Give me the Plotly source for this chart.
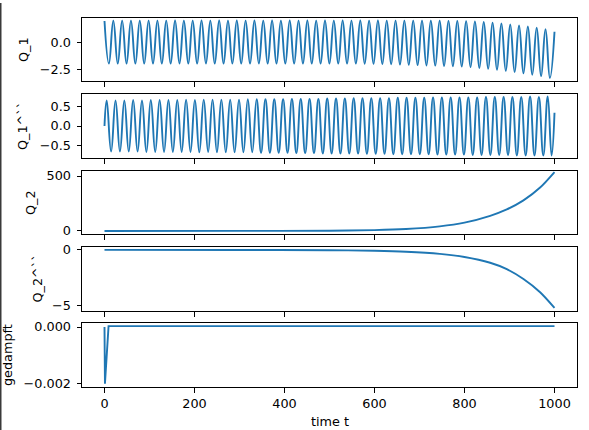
import plotly.graph_objects as go

# ---------------- data ----------------
x_ticks = [0, 200, 400, 600, 800, 1000]
x_tick_labels = ["0", "200", "400", "600", "800", "1000"]

# Q_1: extrema (peaks / troughs) of the oscillation
q1_t = [0, 9.8, 19.6, 29.4, 39.2, 49, 58.8, 68.6, 78.4, 88.2,
        98, 107.8, 117.6, 127.4, 137.2, 147, 156.8, 166.6, 176.4, 186.2,
        196, 205.8, 215.6, 225.4, 235.2, 245, 254.8, 264.6, 274.4, 284.2,
        294, 303.8, 313.6, 323.4, 333.2, 343, 352.8, 362.6, 372.4, 382.2,
        392, 401.8, 411.6, 421.4, 431.2, 441, 450.8, 460.6, 470.4, 480.2,
        490, 499.8, 509.6, 519.4, 529.2, 539, 548.8, 558.6, 568.4, 578.2,
        588, 597.8, 607.6, 617.4, 627.2, 637, 646.8, 656.6, 666.4, 676.2,
        686, 695.8, 705.6, 715.4, 725.2, 735, 744.8, 754.6, 764.4, 774.2,
        784, 793.8, 803.6, 813.4, 823.2, 833, 842.8, 852.6, 862.4, 872.2,
        882, 891.8, 901.6, 911.4, 921.2, 931, 940.8, 950.6, 960.4, 970.2,
        980, 989.8, 1000]
q1_v = [2.08, -1.96, 2.11, -1.97, 2.12, -1.96, 2.12, -1.97, 2.11, -1.97,
        2.12, -1.96, 2.12, -1.97, 2.12, -1.97, 2.13, -1.96, 2.12, -1.97,
        2.12, -1.97, 2.13, -1.96, 2.12, -1.97, 2.13, -1.97, 2.12, -1.96,
        2.13, -1.97, 2.12, -1.97, 2.13, -1.96, 2.12, -1.97, 2.13, -1.97,
        2.12, -1.97, 2.13, -1.97, 2.12, -1.97, 2.13, -1.97, 2.12, -1.97,
        2.13, -1.97, 2.12, -1.97, 2.13, -1.97, 2.12, -1.97, 2.13, -1.98,
        2.12, -1.99, 2.13, -2.01, 2.12, -2.03, 2.12, -2.06, 2.12, -2.09,
        2.12, -2.11, 2.12, -2.14, 2.11, -2.16, 2.11, -2.19, 2.10, -2.22,
        2.09, -2.25, 2.07, -2.30, 2.05, -2.38, 1.99, -2.47, 1.92, -2.56,
        1.84, -2.66, 1.75, -2.77, 1.66, -2.89, 1.56, -3.02, 1.44, -3.16,
        1.30, -3.33, 1.06]

# Q_1^`` : extrema of the oscillation
q1dd_t = [0, 4.9, 14.7, 24.5, 34.3, 44.1, 53.9, 63.7, 73.5, 83.3,
          93.1, 102.9, 112.7, 122.5, 132.3, 142.1, 151.9, 161.7, 171.5, 181.3,
          191.1, 200.9, 210.7, 220.5, 230.3, 240.1, 249.9, 259.7, 269.5, 279.3,
          289.1, 298.9, 308.7, 318.5, 328.3, 338.1, 347.9, 357.7, 367.5, 377.3,
          387.1, 396.9, 406.7, 416.5, 426.3, 436.1, 445.9, 455.7, 465.5, 475.3,
          485.1, 494.9, 504.7, 514.5, 524.3, 534.1, 543.9, 553.7, 563.5, 573.3,
          583.1, 592.9, 602.7, 612.5, 622.3, 632.1, 641.9, 651.7, 661.5, 671.3,
          681.1, 690.9, 700.7, 710.5, 720.3, 730.1, 739.9, 749.7, 759.5, 769.3,
          779.1, 788.9, 798.7, 808.5, 818.3, 828.1, 837.9, 847.7, 857.5, 867.3,
          877.1, 886.9, 896.7, 906.5, 916.3, 926.1, 935.9, 945.7, 955.5, 965.3,
          975.1, 984.9, 993.5, 1000]
q1dd_v = [0,
          0.66, -0.66, 0.66, -0.66, 0.66, -0.66, 0.67, -0.66, 0.66, -0.67,
          0.67, -0.67, 0.67, -0.67, 0.67, -0.67, 0.67, -0.67, 0.68, -0.67,
          0.67, -0.68, 0.68, -0.67, 0.68, -0.68, 0.68, -0.68, 0.68, -0.68,
          0.68, -0.68, 0.69, -0.68, 0.69, -0.69, 0.69, -0.69, 0.69, -0.69,
          0.69, -0.69, 0.70, -0.70, 0.70, -0.70, 0.70, -0.70, 0.70, -0.71,
          0.71, -0.71, 0.71, -0.71, 0.71, -0.71, 0.72, -0.71, 0.72, -0.72,
          0.72, -0.72, 0.72, -0.72, 0.72, -0.73, 0.73, -0.73, 0.73, -0.73,
          0.73, -0.73, 0.73, -0.73, 0.74, -0.74, 0.74, -0.74, 0.74, -0.74,
          0.74, -0.74, 0.74, -0.75, 0.74, -0.75, 0.75, -0.75, 0.75, -0.75,
          0.75, -0.75, 0.75, -0.76, 0.75, -0.76, 0.76, -0.76, 0.75, -0.76,
          0.76, -0.76,
          0.34]

# Q_2 and Q_2^``
q2_t = [0, 300, 500, 600, 670, 745, 800, 857, 894, 931, 968, 1000]
q2_v = [0, 0.5, 2.5, 8, 18, 42, 76, 138, 196, 278, 395, 536]
q2dd_v = [0, -0.01, -0.027, -0.078, -0.16, -0.35, -0.63, -1.15, -1.72, -2.6, -3.78, -5.18]

# gedampft
ged_t = [0, 1, 9, 16, 1000]
ged_v = [0, -0.002, 0.00003, 0.00003, 0.00003]

assert len(q1_t) == len(q1_v)
assert len(q1dd_t) == len(q1dd_v)

# y-axis labels / ticks per panel
titles = ["Q_1", "Q_1^``", "Q_2", "Q_2^``", "gedampft"]
y_ticks = [[-2.5, 0.0], [-0.5, 0.0, 0.5], [0, 500], [-5, 0], [-0.002, 0.0]]
y_tick_labels = [["\u22122.5", "0.0"], ["\u22120.5", "0.0", "0.5"], ["0", "500"],
                 ["\u22125", "0"], ["\u22120.002", "0.000"]]
y_ranges = [[-3.62, 2.37], [-0.826, 0.826], [-27.6, 545.6], [-5.46, 0.26],
            [-0.002116, 0.000141]]

# (x, y, line shape, spline smoothing)
series = [(q1_t, q1_v, "spline", 1.3), (q1dd_t, q1dd_v, "spline", 1.3),
          (q2_t, q2_v, "spline", 0.8), (q2_t, q2dd_v, "spline", 0.8),
          (ged_t, ged_v, "linear", None)]

# ---------------- layout ----------------
W, H = 589, 430
ML, MR, MT, MB = 82, 12, 18, 43
PW = W - ML - MR
PH = H - MT - MB
panel_px = [(18, 81), (94, 158), (171, 234), (247, 311), (323, 387)]
label_x_px = [23.5, 22.0, 30.5, 36.5, 7.0]


def paper_y(p):
    return (H - MB - p) / PH


def paper_x(p):
    return (p - ML) / PW


BLUE = "#1f77b4"
FONT = dict(family="DejaVu Sans", size=12.8, color="black")

fig = go.Figure()
layout = dict(width=W, height=H, margin=dict(l=ML, r=MR, t=MT, b=MB, pad=0),
              paper_bgcolor="white", plot_bgcolor="white", showlegend=False,
              font=FONT)
annotations = []
for i, ((tx, ty, shape, smooth), (top, bot)) in enumerate(zip(series, panel_px)):
    n = i + 1
    sx = "" if n == 1 else str(n)
    line = dict(color=BLUE, width=1.9, shape=shape)
    if smooth is not None:
        line["smoothing"] = smooth
    fig.add_trace(go.Scatter(x=tx, y=ty, mode="lines", line=line,
                             xaxis="x" + sx, yaxis="y" + sx, hoverinfo="skip"))
    common = dict(showline=True, linecolor="black", linewidth=1, mirror=True,
                  ticks="outside", ticklen=4.5, tickwidth=1, tickcolor="black",
                  showgrid=False, zeroline=False, tickfont=FONT)
    layout["xaxis" + sx] = dict(domain=[0, 1], anchor="y" + sx, range=[-50, 1050],
                                tickmode="array", tickvals=x_ticks,
                                ticktext=x_tick_labels,
                                showticklabels=(n == 5), **common)
    layout["yaxis" + sx] = dict(domain=[paper_y(bot), paper_y(top)], anchor="x" + sx,
                                range=y_ranges[i], tickmode="array",
                                tickvals=y_ticks[i], ticktext=y_tick_labels[i],
                                ticklabelstandoff=3, **common)
    annotations.append(dict(text=titles[i], textangle=-90, showarrow=False,
                            xref="paper", yref="paper",
                            x=paper_x(label_x_px[i]), y=paper_y((top + bot) / 2),
                            xanchor="center", yanchor="middle", font=FONT))

annotations.append(dict(text="time t", showarrow=False, xref="paper", yref="paper",
                        x=0.5, y=paper_y(421.5), xanchor="center", yanchor="middle",
                        font=FONT))
layout["annotations"] = annotations
layout["shapes"] = [dict(type="rect", xref="paper", yref="paper",
                         x0=paper_x(0), x1=paper_x(1.5), y0=paper_y(430), y1=paper_y(3),
                         fillcolor="#3a3a3a", line=dict(width=0), layer="above")]
fig.update_layout(**layout)
fig.write_html("out.html")
